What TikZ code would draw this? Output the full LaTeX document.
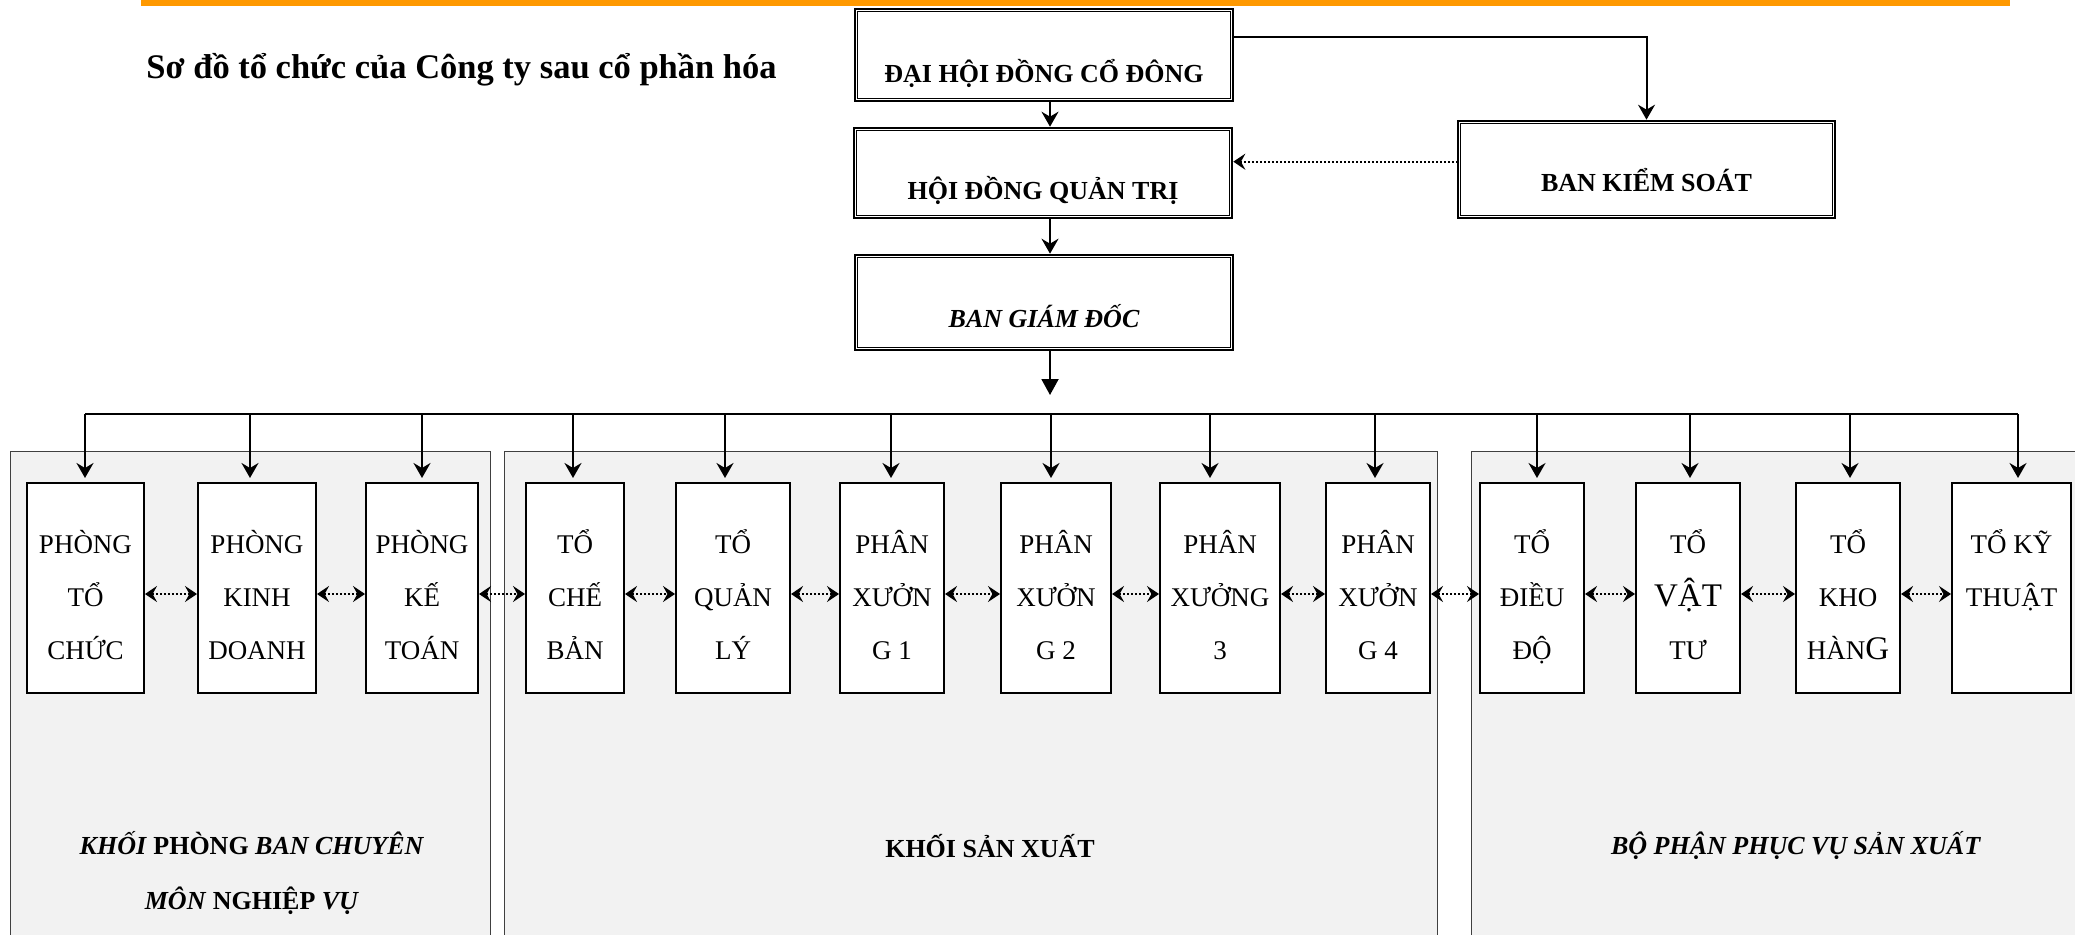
\documentclass[tikz,border=0pt]{standalone}
\usepackage{fontspec}
\setmainfont{Liberation Serif}
\usetikzlibrary{arrows.meta,calc}
\definecolor{barorange}{RGB}{255,153,0}
\definecolor{panelgray}{RGB}{242,242,242}

\begin{document}
\begin{tikzpicture}[x=0.5pt,y=0.5pt,yscale=-1,
  topbox/.style={draw, line width=1.3pt, minimum width=189pt, inner sep=0pt, font=\fontsize{13}{15}\selectfont\bfseries, execute at begin node={\rule{0pt}{#1}}},
  topbox/.default=25pt,
  unit/.style={draw, fill=white, line width=1pt, minimum height=105pt, inner sep=1pt, align=center, font=\fontsize{13.5}{26.5}\selectfont, text height=75pt, text depth=4pt},
  panel/.style={draw=black!75, fill=panelgray, line width=0.5pt},
  grouptext/.style={align=center, inner sep=0pt, font=\fontsize{13}{27.5}\selectfont\bfseries},
  arr/.style={line width=1pt, -{Stealth[length=7.5pt,width=8.5pt,inset=2.5pt]}},
  bigarr/.style={line width=1pt, -{Triangle[length=8pt,width=8.5pt]}},
  link/.style={line width=1.1pt, dash pattern=on 1pt off 1pt, {Stealth[length=6pt,width=8pt,inset=2.2pt]}-{Stealth[length=6pt,width=8pt,inset=2.2pt]}}]
\useasboundingbox (0,0) rectangle (2075,935);
\clip (0,0) rectangle (2075,935);

\fill[barorange] (141,0) rectangle (2010,6);
\node[anchor=base west, inner sep=0pt, font=\fontsize{17.25}{20}\selectfont\bfseries] (title) at (146,79) {Sơ đồ tổ chức của Công ty sau cổ phần hóa};

\draw[panel] (10.5,451) rectangle (490,960);
\draw[panel] (504,451) rectangle (1437,960);
\draw[panel] (1471,451) rectangle (2100,960);

\node[topbox=30pt, minimum height=46pt] (dhd) at (1044,55) {ĐẠI HỘI ĐỒNG CỔ ĐÔNG};
\node[topbox=29pt, minimum height=45pt] (hdqt) at (1043,173) {HỘI ĐỒNG QUẢN TRỊ};
\node[topbox, minimum height=47.5pt] (bgd) at (1044,302.5) {\itshape BAN GIÁM ĐỐC};
\node[topbox=22.5pt, minimum height=48.5pt, minimum width=188.5pt] (bks) at (1646.5,169.5) {BAN KIỂM SOÁT};
\foreach \bx in {dhd,hdqt,bgd,bks}
  \draw[line width=0.6pt] ($(\bx.south west)+(4,-4)$) rectangle ($(\bx.north east)+(-4,4)$);

\coordinate (spine) at (1050,395);
\draw[arr] (dhd.south -| spine) -- (hdqt.north -| spine);
\draw[arr] (hdqt.south -| spine) -- (bgd.north -| spine);
\draw[bigarr] (bgd.south -| spine) -- (spine);
\draw[arr] (dhd.north east) ++(0,29) -| (bks.north);
\path (bks.north west) ++(0,42) coordinate (kscap);
\draw[line width=1.1pt, dash pattern=on 1pt off 1pt, {Stealth[length=6pt,width=8pt,inset=2.2pt]}-] (kscap -| hdqt.east) -- (kscap);

\foreach \n/\l/\r/\ax/\txt in {
  ptc/27/144/85/{PHÒNG\\TỔ\\CHỨC},
  pkd/198/316/250/{PHÒNG\\KINH\\DOANH},
  pkt/366/478/422/{PHÒNG\\KẾ\\TOÁN},
  tcb/526/624/573/{TỔ\\CHẾ\\BẢN},
  tql/676/790/725/{TỔ\\QUẢN\\LÝ},
  px1/840/944/891/{PHÂN\\XƯỞN\\G 1},
  px2/1001/1111/1051/{PHÂN\\XƯỞN\\G 2},
  px3/1160/1280/1210/{PHÂN\\XƯỞNG\\3},
  px4/1326/1430/1375/{PHÂN\\XƯỞN\\G 4},
  tdd/1480/1584/1537/{TỔ\\ĐIỀU\\ĐỘ},
  tvt/1636/1740/1690/{TỔ\\{\fontsize{16.5}{26.5}\selectfont VẬT}\\TƯ},
  tkh/1796/1900/1850/{TỔ\\KHO\\HÀN{\fontsize{16.5}{26.5}\selectfont G}},
  tkt/1952/2071/2018/{TỔ KỸ\\THUẬT\\~}}
{
  \node[unit, minimum width={(\r-\l)*0.5pt}] (\n) at ({(\l+\r)/2},588) {\txt};
  \coordinate (bus\n) at (\ax,414);
  \draw[arr, shorten >=2pt] (bus\n) -- (bus\n |- \n.north);
}
\draw[line width=1pt] (busptc) -- (bustkt);

\foreach \p/\q in {ptc/pkd,pkd/pkt,pkt/tcb,tcb/tql,tql/px1,px1/px2,px2/px3,px3/px4,px4/tdd,tdd/tvt,tvt/tkh,tkh/tkt}
  \draw[link] ($(\p.east)+(0,6)$) -- ($(\q.west)+(0,6)$);

\node[grouptext] (gphong) at (252,873) {\textit{KHỐI} PHÒNG \textit{BAN CHUYÊN}\\\textit{MÔN} NGHIỆP \textit{VỤ}};
\node[grouptext] (gsx) at (990,846) {KHỐI SẢN XUẤT};
\node[grouptext] (gpv) at (1796,846) {\textit{BỘ PHẬN PHỤC VỤ SẢN XUẤT}};
\end{tikzpicture}
\end{document}
